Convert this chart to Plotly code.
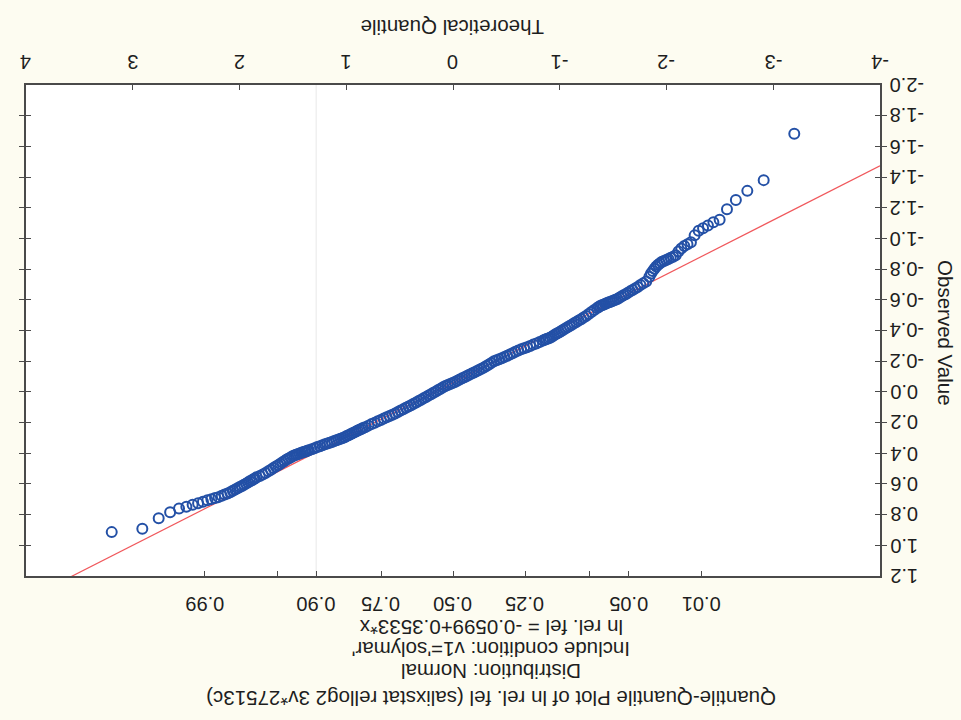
from statistics import NormalDist

import plotly.graph_objects as go

# Sample size and fitted line for ln rel. fel (normal Q-Q plot)
n_obs = 900
intercept = -0.0599
slope = 0.3533

# Sorted observed values, grouped by rank blocks
ranks_low_tail = list(range(1, 31))
obs_low_tail = [
    -1.683, -1.380, -1.310, -1.250, -1.190, -1.122, -1.105, -1.085, -1.066, -1.050,
    -1.020, -0.975, -0.962, -0.950, -0.935, -0.915, -0.890, -0.880, -0.874, -0.866,
    -0.859, -0.853, -0.848, -0.838, -0.828, -0.817, -0.802, -0.787, -0.771, -0.750,
]
ranks_low_shoulder = list(range(32, 81, 2))
obs_low_shoulder = [
    -0.720, -0.708, -0.696, -0.684, -0.673, -0.664, -0.655, -0.646, -0.637, -0.629,
    -0.621, -0.613, -0.606, -0.600, -0.595, -0.591, -0.586, -0.582, -0.577, -0.572,
    -0.568, -0.564, -0.559, -0.553, -0.546,
]
ranks_low_body = list(range(84, 181, 4))
obs_low_body = [
    -0.533, -0.520, -0.507, -0.495, -0.484, -0.474, -0.465, -0.456, -0.447, -0.438,
    -0.430, -0.421, -0.413, -0.405, -0.397, -0.389, -0.382, -0.375, -0.367, -0.360,
    -0.353, -0.348, -0.344, -0.339, -0.335,
]
ranks_center = list(range(188, 717, 8))
obs_center = [
    -0.325, -0.316, -0.308, -0.299, -0.291, -0.284, -0.277, -0.270, -0.261, -0.252,
    -0.244, -0.235, -0.227, -0.219, -0.213, -0.206, -0.199, -0.189, -0.179, -0.168,
    -0.159, -0.151, -0.142, -0.134, -0.127, -0.119, -0.112, -0.104, -0.096, -0.088,
    -0.081, -0.073, -0.065, -0.058, -0.051, -0.045, -0.038, -0.030, -0.021, -0.012,
    -0.003, 0.006, 0.015, 0.024, 0.033, 0.042, 0.051, 0.060, 0.069, 0.077,
    0.087, 0.095, 0.104, 0.114, 0.122, 0.131, 0.141, 0.149, 0.157, 0.165,
    0.174, 0.183, 0.191, 0.201, 0.210, 0.220, 0.230,
]
ranks_high_body = list(range(721, 818, 4))
obs_high_body = [
    0.236, 0.242, 0.247, 0.252, 0.258, 0.264, 0.270, 0.276, 0.282, 0.288,
    0.295, 0.300, 0.305, 0.310, 0.315, 0.320, 0.326, 0.331, 0.337, 0.342,
    0.348, 0.354, 0.360, 0.367, 0.374,
]
ranks_high_shoulder = list(range(821, 870, 2))
obs_high_shoulder = [
    0.381, 0.384, 0.388, 0.391, 0.394, 0.398, 0.402, 0.406, 0.410, 0.415,
    0.420, 0.427, 0.434, 0.441, 0.450, 0.459, 0.468, 0.478, 0.487, 0.496,
    0.507, 0.518, 0.528, 0.539, 0.549,
]
ranks_high_tail = list(range(871, 901))
obs_high_tail = [
    0.557, 0.564, 0.570, 0.577, 0.583, 0.590, 0.598, 0.606, 0.613, 0.620,
    0.628, 0.636, 0.644, 0.654, 0.662, 0.669, 0.677, 0.686, 0.692, 0.699,
    0.707, 0.716, 0.726, 0.736, 0.749, 0.760, 0.784, 0.823, 0.892, 0.914,
]

# Axis ticks
q_ticks = [-4, -3, -2, -1, 0, 1, 2, 3, 4]
q_labels = ["-4", "-3", "-2", "-1", "0", "1", "2", "3", "4"]
obs_ticks = [-2.0, -1.8, -1.6, -1.4, -1.2, -1.0, -0.8, -0.6, -0.4, -0.2,
             0.0, 0.2, 0.4, 0.6, 0.8, 1.0, 1.2]
obs_labels = ["-2.0", "-1.8", "-1.6", "-1.4", "-1.2", "-1.0", "-0.8", "-0.6", "-0.4",
              "-0.2", "0.0", "0.2", "0.4", "0.6", "0.8", "1.0", "1.2"]
prob_ticks = [0.01, 0.05, 0.10, 0.25, 0.50, 0.75, 0.90, 0.95, 0.99]
prob_labels = ["0.01", "0.05", "", "0.25", "0.50", "0.75", "0.90", "", "0.99"]

title_lines = [
    "Quantile-Quantile Plot of ln rel. fel (salixstat rellog2 3v*27513c)",
    "Distribution: Normal",
    "Include condition: v1='solymar'",
    "ln rel. fel = -0.0599+0.3533*x",
]

ranks = (ranks_low_tail + ranks_low_shoulder + ranks_low_body + ranks_center
         + ranks_high_body + ranks_high_shoulder + ranks_high_tail)
observed = (obs_low_tail + obs_low_shoulder + obs_low_body + obs_center
            + obs_high_body + obs_high_shoulder + obs_high_tail)
assert len(ranks) == len(observed)

# Blom plotting positions -> theoretical normal quantiles
nd = NormalDist()
theoretical = [nd.inv_cdf((r - 0.375) / (n_obs + 0.25)) for r in ranks]
prob_pos = [nd.inv_cdf(p) for p in prob_ticks]

FONT = "Liberation Sans, Arial, sans-serif"
INK = "#1e1e1e"
BLUE = "#2350a6"
RED = "#f0585c"
PAPER = "#fdfcf1"
FRAME = "#4a4a4a"

fig = go.Figure()

fit_x = [q_ticks[0], q_ticks[-1]]
fig.add_trace(go.Scatter(
    x=fit_x, y=[intercept + slope * v for v in fit_x],
    mode="lines", line=dict(color=RED, width=1.2),
    xaxis="x", yaxis="y", showlegend=False, hoverinfo="skip",
))
fig.add_trace(go.Scatter(
    x=theoretical, y=observed, mode="markers",
    marker=dict(symbol="circle-open", size=10, color=BLUE, line=dict(width=2.0, color=BLUE)),
    xaxis="x2", yaxis="y", showlegend=False,
))

# faint reference line at the 0.90 probability position
fig.add_shape(type="line", xref="x", yref="paper", x0=prob_pos[6], x1=prob_pos[6],
              y0=0, y1=1, line=dict(color="#ececec", width=1.2), layer="below")

axis_common = dict(
    range=[4, -4], showgrid=False, zeroline=False, showticklabels=False,
    ticks="inside", ticklen=5, tickwidth=1, tickcolor=FRAME,
)

fig.update_layout(
    width=961, height=720,
    margin=dict(l=26, r=81, t=85, b=144),
    paper_bgcolor=PAPER, plot_bgcolor="white",
    xaxis=dict(
        side="top", tickmode="array", tickvals=q_ticks,
        showline=True, mirror=True, linecolor=FRAME, linewidth=1.5,
        **axis_common,
    ),
    xaxis2=dict(
        overlaying="x", side="bottom", anchor="y", tickmode="array",
        tickvals=prob_pos, showline=False,
        **axis_common,
    ),
    yaxis=dict(
        range=[1.2, -2.0], side="right", tickmode="array", tickvals=obs_ticks,
        showticklabels=False,
        showline=True, mirror="allticks", linecolor=FRAME, linewidth=1.5,
        showgrid=False, zeroline=False, ticks="inside", ticklen=5, tickcolor=FRAME,
    ),
    font=dict(family=FONT, color=INK),
)

tick_font = dict(family=FONT, size=20, color=INK)
text_font = dict(family=FONT, size=20.5, color=INK)

# upside-down tick labels placed on the axis scales
for v, lab in zip(q_ticks, q_labels):
    fig.add_annotation(text=lab, xref="x", yref="paper", x=v, y=1.047,
                       xanchor="center", yanchor="middle", showarrow=False,
                       textangle=180, font=tick_font)
for v, lab in zip(prob_pos, prob_labels):
    if lab:
        fig.add_annotation(text=lab, xref="x2", yref="paper", x=v, y=-0.057,
                           xanchor="center", yanchor="middle", showarrow=False,
                           textangle=180, font=tick_font)
for v, lab in zip(obs_ticks, obs_labels):
    fig.add_annotation(text=lab, xref="paper", yref="y", x=1.0094, y=v,
                       xanchor="left", yanchor="middle", showarrow=False,
                       textangle=180, font=tick_font)

fig.add_annotation(text="Theoretical Quantile", xref="paper", yref="paper",
                   x=0.5, y=1.116, xanchor="center", yanchor="middle",
                   showarrow=False, textangle=180, font=text_font)
fig.add_annotation(text="Observed Value", xref="paper", yref="paper",
                   x=1.076, y=0.495, xanchor="center", yanchor="middle",
                   showarrow=False, textangle=90, font=text_font)
for text, ypos in zip(title_lines, [-0.248, -0.196, -0.151, -0.106]):
    fig.add_annotation(text=text, xref="paper", yref="paper", x=0.5445, y=ypos,
                       xanchor="center", yanchor="middle", showarrow=False,
                       textangle=180, font=text_font)

fig.write_html("out.html")
